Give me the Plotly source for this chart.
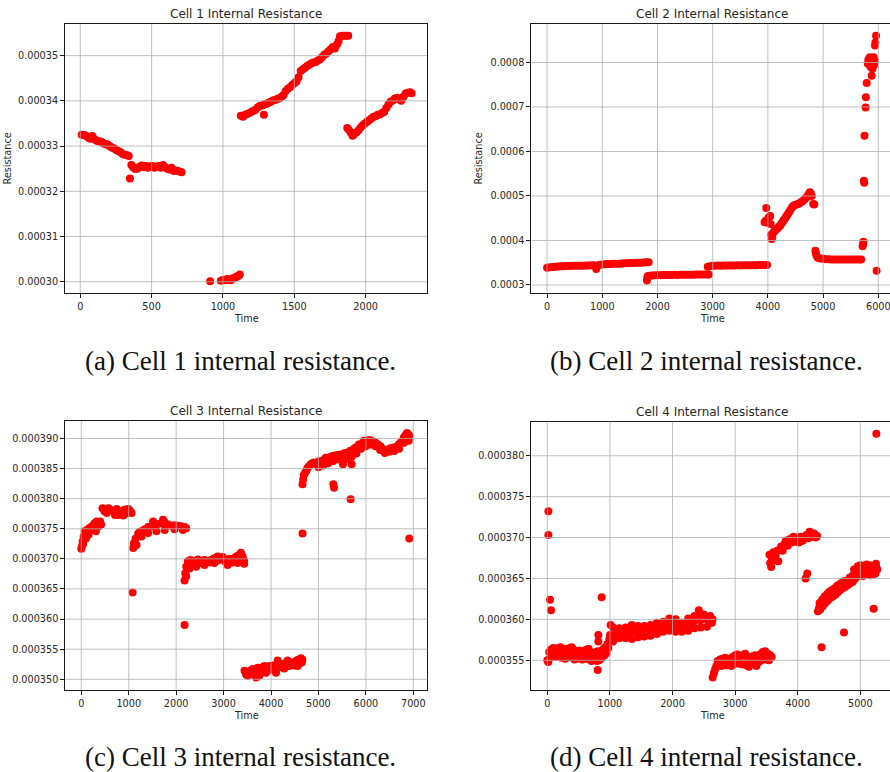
import plotly.graph_objects as go

W, H = 890, 772

# Measured internal resistance per cell: (time, resistance in micro-ohm)
cell1_points = [
    (10, 332.5), (25, 332.5), (40, 332.3), (55, 331.9), (70, 331.6), (85, 332.2), (100, 331.5),
    (115, 331.2), (130, 331.0), (145, 331.0), (160, 330.7), (175, 330.4), (190, 330.4), (205, 330.0),
    (220, 329.7), (235, 329.5), (250, 329.2), (265, 328.9), (280, 328.7), (295, 328.3), (310, 328.1),
    (325, 328.0), (340, 327.8), (348, 322.8),
    (358, 325.8), (370, 325.3), (385, 324.9), (400, 325.0), (415, 325.4), (430, 325.7), (445, 325.3),
    (460, 325.6), (475, 325.2), (490, 325.5), (505, 325.6), (520, 325.2), (535, 325.4), (550, 325.6),
    (565, 325.2), (580, 325.8), (595, 325.3), (610, 325.0), (625, 324.8), (640, 325.2), (655, 324.5),
    (670, 324.6), (685, 324.5), (700, 324.3), (710, 324.2),
    (910, 300.1), (985, 300.2), (1000, 300.4), (1015, 300.3), (1030, 300.6), (1045, 300.4),
    (1055, 300.3), (1065, 300.7), (1080, 300.9), (1090, 301.0), (1100, 301.2), (1110, 301.3), (1118, 301.6),
    (1125, 336.7), (1140, 336.5), (1155, 336.9), (1170, 337.1), (1185, 337.3), (1200, 337.6),
    (1215, 337.8), (1230, 338.1), (1245, 338.6), (1260, 338.9), (1275, 339.0), (1287, 336.9),
    (1290, 339.2), (1305, 339.3), (1320, 339.6), (1335, 339.8), (1350, 340.1), (1365, 340.2),
    (1380, 340.4), (1395, 340.6), (1410, 340.9), (1425, 341.3), (1440, 342.2), (1455, 342.7),
    (1470, 343.0), (1485, 343.5), (1500, 343.9), (1515, 344.3), (1530, 345.2), (1545, 346.6),
    (1560, 347.0), (1575, 347.3), (1590, 347.7), (1605, 348.0), (1620, 348.3), (1635, 348.5),
    (1650, 348.6), (1665, 348.9), (1680, 349.2), (1695, 349.7), (1710, 350.2), (1725, 350.5),
    (1740, 351.0), (1755, 351.4), (1770, 351.9), (1785, 351.6), (1800, 352.5), (1810, 353.2),
    (1820, 354.3), (1835, 354.4), (1850, 354.4), (1865, 354.4), (1878, 354.4),
    (1871, 334.0), (1882, 333.6), (1895, 333.0), (1908, 332.3), (1920, 332.6), (1935, 333.0),
    (1950, 333.5), (1965, 334.1), (1980, 334.6), (1995, 335.0), (2010, 335.4), (2025, 335.7),
    (2040, 336.1), (2055, 336.5), (2070, 336.6), (2085, 336.9), (2100, 337.0), (2115, 337.3),
    (2130, 337.6), (2145, 338.4), (2160, 339.2), (2175, 339.8), (2190, 340.1), (2205, 340.5),
    (2220, 340.7), (2235, 340.3), (2250, 340.0), (2265, 340.9), (2280, 341.6), (2295, 341.8),
    (2310, 341.9), (2322, 341.7),
]

cell2_points = [
    (0, 339), (50, 340), (100, 340.5), (150, 341), (200, 341.5), (250, 342), (300, 342), (350, 342.5),
    (400, 342.5), (450, 343), (500, 343), (550, 343.2), (600, 343.5), (650, 343.5), (700, 344),
    (750, 344), (800, 344.2), (850, 344.5), (890, 336), (900, 341), (950, 345.5), (1000, 346),
    (1050, 346.5), (1100, 347), (1150, 347), (1200, 347.5), (1250, 348), (1300, 348), (1350, 348.5),
    (1400, 349), (1450, 349), (1500, 349.5), (1550, 349.5), (1600, 350), (1650, 350), (1700, 350),
    (1750, 350.5), (1800, 351), (1840, 351),
    (1810, 310), (1815, 316), (1825, 320), (1850, 321), (1900, 321.5), (1950, 322), (2000, 322),
    (2050, 322), (2100, 322.5), (2150, 322.5), (2200, 322.5), (2250, 322.5), (2300, 323), (2350, 322.5),
    (2400, 323), (2450, 323), (2500, 323), (2550, 323), (2600, 323), (2650, 323), (2700, 323.5),
    (2750, 323.5), (2800, 323.5), (2850, 323.5), (2900, 323.5), (2930, 323.5),
    (2910, 341), (2950, 342), (3000, 343.5), (3050, 343.5), (3100, 344), (3150, 343.5), (3200, 344),
    (3250, 344), (3300, 344), (3350, 344), (3400, 344), (3450, 344.5), (3500, 344), (3550, 344.5),
    (3600, 344.5), (3650, 344.5), (3700, 344.5), (3750, 344.5), (3800, 344.5), (3850, 345),
    (3900, 345), (3950, 345), (3985, 345),
    (3940, 441), (3960, 444.5), (3970, 473), (3990, 440), (4010, 451), (4030, 453.5), (4040, 455),
    (4050, 437), (4060, 413), (4068, 403.4), (4080, 408), (4100, 418.4), (4120, 421), (4140, 424),
    (4160, 425.8), (4180, 428), (4200, 431), (4220, 433.3), (4240, 437), (4260, 440.5), (4280, 444.5),
    (4300, 447.5), (4320, 451), (4340, 455.7), (4360, 459), (4380, 463), (4400, 467), (4420, 471),
    (4440, 474.5), (4460, 478), (4490, 480), (4520, 481), (4550, 482), (4580, 484), (4610, 487),
    (4640, 489.4), (4670, 493), (4700, 497), (4730, 503), (4760, 508.3), (4780, 505), (4795, 500),
    (4820, 482), (4840, 481),
    (4860, 377), (4870, 372), (4880, 366), (4900, 362), (4930, 360), (4960, 359.5), (5000, 359),
    (5050, 358), (5100, 358), (5150, 357.5), (5200, 357.5), (5250, 357.5), (5300, 357.5),
    (5350, 357.5), (5400, 357.5), (5450, 357.5), (5500, 357.5), (5550, 357.5), (5600, 357.5),
    (5650, 357.5), (5690, 357.5),
    (5715, 387), (5725, 392), (5730, 397), (5740, 534), (5745, 530), (5750, 635.5), (5770, 699),
    (5775, 721.8), (5790, 754), (5810, 797), (5820, 806), (5830, 800), (5845, 812), (5860, 790),
    (5870, 805), (5880, 770), (5895, 786), (5905, 800), (5915, 812), (5925, 795), (5935, 805),
    (5940, 838), (5948, 845), (5960, 860), (5970, 332),
]

cell3_points = [
    (0, 371.7), (14, 372.1), (28, 372.9), (40, 372.5), (49, 373.7), (70, 374.6), (98, 373.4),
    (119, 374.8), (153, 374.0), (167, 375.1), (223, 375.4), (258, 374.8), (279, 375.9), (307, 374.6),
    (328, 376.2), (363, 375.4), (398, 376.2), (419, 375.7),
    (447, 378.4), (489, 377.9), (537, 377.6), (572, 378.4), (607, 378.2), (677, 377.9), (712, 377.3),
    (747, 378.3), (782, 377.3), (851, 377.9), (886, 377.2), (921, 378.2), (977, 377.6), (991, 378.3),
    (1026, 378.0), (1061, 377.6),
    (1082, 364.4),
    (1096, 371.8), (1110, 372.6), (1144, 373.4), (1165, 372.3), (1200, 374.2), (1235, 374.5),
    (1270, 374.6), (1270, 373.7), (1340, 374.9), (1410, 375.3), (1410, 374.3), (1479, 375.4),
    (1514, 376.2), (1549, 375.7), (1584, 374.6), (1619, 375.8), (1689, 375.9), (1724, 376.5),
    (1759, 376.1), (1759, 374.8), (1828, 375.7), (1898, 375.5), (1968, 375.6), (1968, 374.9),
    (2038, 375.5), (2107, 375.4), (2142, 374.8), (2177, 375.3), (2212, 375.1),
    (2178, 359.0),
    (2177, 366.4), (2191, 367.6), (2212, 368.7), (2212, 367.1), (2247, 369.6), (2282, 368.4),
    (2303, 369.8), (2340, 369.2), (2387, 369.6), (2422, 368.7), (2456, 369.9), (2490, 369.5),
    (2526, 369.3), (2560, 369.6), (2596, 369.8), (2596, 369.0), (2666, 369.6), (2700, 369.4),
    (2736, 369.8), (2770, 369.9), (2805, 370.1), (2805, 369.3), (2840, 369.6), (2875, 370.4),
    (2910, 369.8), (2945, 370.1), (2980, 370.3), (3015, 369.8), (3050, 369.4), (3085, 369.6),
    (3085, 369.0), (3120, 370.0), (3154, 369.9), (3190, 369.4), (3224, 370.1), (3260, 370.3),
    (3294, 370.5), (3294, 369.3), (3330, 370.2), (3364, 371.0), (3400, 370.4), (3434, 369.7),
    (3434, 369.2),
    (3441, 351.4), (3475, 350.8), (3510, 350.6), (3545, 350.8), (3580, 351.5), (3615, 351.7),
    (3650, 351.2), (3685, 350.3), (3720, 351.9), (3755, 350.6), (3790, 351.6), (3825, 352.0),
    (3860, 352.2), (3895, 351.1), (3930, 351.9), (3965, 352.2), (4000, 351.6), (4035, 352.3),
    (4070, 351.9), (4105, 351.1), (4140, 353.1), (4175, 352.0), (4210, 352.6), (4245, 352.5),
    (4280, 351.8), (4315, 352.7), (4350, 353.1), (4385, 352.2), (4420, 352.6), (4455, 352.8),
    (4490, 352.3), (4525, 353.0), (4559, 353.2), (4559, 352.2), (4595, 352.6), (4629, 353.5),
    (4650, 352.8), (4660, 353.3),
    (4664, 374.2),
    (4664, 382.4), (4678, 383.2), (4690, 383.9), (4720, 384.3), (4750, 384.7), (4769, 385.1),
    (4800, 385.4), (4839, 385.7), (4870, 385.9), (4909, 386.0), (4950, 385.8), (5014, 386.2),
    (5060, 386.1), (5100, 386.4), (5154, 386.8), (5200, 386.6), (5250, 386.9), (5294, 387.1),
    (5340, 386.9), (5380, 387.2), (5434, 387.3), (5480, 387.2), (5517, 385.7), (5530, 387.5),
    (5573, 387.6), (5620, 387.5), (5660, 387.9), (5699, 385.7), (5713, 387.9), (5750, 388.3),
    (5783, 388.5), (5820, 388.6), (5853, 389.0), (5900, 389.1), (5958, 389.6), (6000, 389.5),
    (6050, 389.7), (6098, 389.7), (6150, 389.5), (6203, 389.3), (6250, 389.0), (6308, 388.7),
    (6350, 388.3), (6399, 387.6), (6440, 388.0), (6483, 388.2), (6530, 388.4), (6587, 388.5),
    (6640, 388.6), (6692, 389.0), (6740, 389.4), (6797, 390.1), (6830, 390.5), (6867, 390.9),
    (6900, 390.6), (6916, 390.4), (6902, 389.6),
    (5000, 385.2), (5100, 385.5), (5200, 385.9), (5300, 386.2), (5400, 386.5), (5500, 386.6),
    (5600, 386.6), (5700, 386.9), (5800, 387.5), (5900, 388.3), (6000, 388.7), (6100, 389.0),
    (6200, 388.7), (6300, 388.1), (6500, 387.8), (6600, 387.9), (6700, 388.3), (6800, 389.3),
    (6900, 389.8),
    (5315, 382.4), (5329, 381.8), (5678, 379.9), (6916, 373.4),
]

cell4_points = [
    # early outliers
    (16, 373.2), (16, 370.3), (43, 362.4), (59, 361.1), (804, 353.8), (815, 358.1), (815, 357.3),
    (868, 362.7),
    # first plateau, upper edge
    (0, 355.0), (30, 356.0), (60, 356.3), (90, 356.5), (120, 356.4), (150, 356.2), (180, 356.5),
    (210, 356.6), (240, 356.3), (270, 356.2), (300, 356.4), (330, 356.3), (360, 356.5), (390, 356.6),
    (420, 356.3), (450, 356.0), (480, 356.1), (510, 356.2), (540, 356.0), (570, 356.1), (600, 356.2),
    (630, 356.3), (660, 356.4), (690, 356.0), (720, 355.8), (750, 355.9), (780, 356.0), (810, 356.1),
    (840, 356.0), (870, 356.2), (900, 356.4), (930, 356.6), (960, 357.0), (990, 357.6),
    # first plateau, lower edge
    (15, 354.8), (45, 355.3), (75, 355.5), (105, 355.6), (135, 355.4), (165, 355.5), (195, 355.6),
    (225, 355.3), (255, 355.4), (285, 355.2), (315, 355.5), (345, 355.4), (375, 355.6), (405, 355.3),
    (435, 355.1), (465, 355.2), (495, 355.4), (525, 355.3), (555, 355.1), (585, 355.3), (615, 355.2),
    (645, 355.4), (675, 355.1), (705, 354.9), (735, 355.0), (765, 355.1), (795, 354.9), (825, 355.0),
    (855, 355.2), (885, 355.5), (915, 355.6), (945, 355.9), (975, 356.5),
    (1001, 358.1), (1012, 359.3),
    # second plateau
    (1050, 358.0), (1100, 358.3), (1150, 358.1), (1200, 358.4), (1250, 358.0), (1300, 358.3),
    (1350, 358.5), (1400, 358.8), (1450, 358.3), (1500, 358.5), (1550, 358.4), (1600, 358.3),
    (1650, 358.6), (1700, 358.9), (1750, 358.7), (1800, 359.0), (1850, 359.2), (1900, 359.4),
    (1950, 359.2), (2000, 359.3), (2050, 359.2), (2100, 359.0), (2150, 359.1), (2200, 359.0),
    (2250, 359.4), (2300, 359.6), (2350, 359.8), (2400, 360.2), (2450, 359.9), (2500, 360.2),
    (2550, 360.0), (2600, 360.1), (2640, 360.0),
    (1050, 359.0), (1150, 358.9), (1250, 359.0), (1350, 359.3), (1450, 359.2), (1550, 359.2),
    (1650, 359.3), (1750, 359.6), (1850, 359.7), (1950, 360.1), (2050, 360.0), (2150, 359.6),
    (2250, 360.1), (2350, 360.4), (2420, 361.1), (2500, 360.6), (2600, 360.4),
    (1050, 357.3), (1150, 357.7), (1250, 357.7), (1350, 357.6), (1450, 357.8), (1550, 357.9),
    (1650, 358.0), (1750, 358.2), (1850, 358.5), (1950, 358.6), (2050, 358.5), (2150, 358.5),
    (2250, 358.6), (2350, 358.9), (2450, 359.0), (2550, 359.1), (2630, 359.6),
    # third plateau
    (2641, 352.9), (2660, 353.4), (2680, 353.9), (2700, 354.3), (2740, 354.4), (2780, 354.3),
    (2820, 354.5), (2860, 354.4), (2900, 354.6), (2940, 354.3), (2980, 354.5), (3020, 354.7),
    (3060, 354.6), (3100, 354.5), (3140, 354.6), (3180, 354.4), (3220, 354.2), (3260, 354.6),
    (3300, 354.7), (3340, 354.3), (3380, 354.8), (3420, 355.0), (3460, 355.2), (3500, 355.1),
    (3540, 355.0),
    (2720, 354.9), (2760, 355.1), (2800, 355.2), (2840, 355.3), (2880, 355.0), (2920, 355.2),
    (2960, 355.4), (3000, 355.6), (3040, 355.7), (3080, 355.5), (3120, 355.6), (3160, 355.8),
    (3200, 355.4), (3240, 355.3), (3280, 355.5), (3320, 355.6), (3360, 355.4), (3400, 355.7),
    (3440, 356.0), (3480, 356.1), (3520, 355.8), (3560, 355.6), (3584, 355.4),
    # fourth plateau
    (3549, 367.9), (3560, 366.9), (3576, 366.4), (3590, 367.5), (3610, 368.2), (3629, 367.2),
    (3650, 367.9), (3670, 368.4), (3690, 367.1), (3710, 368.5), (3736, 368.9), (3760, 368.4),
    (3789, 369.2), (3810, 369.6), (3840, 369.0), (3869, 369.8), (3900, 369.4), (3930, 370.1),
    (3960, 369.5), (3990, 370.0), (4020, 369.4), (4050, 370.1), (4080, 369.6), (4110, 369.9),
    (4140, 370.3), (4170, 369.9), (4190, 370.7), (4210, 370.4), (4240, 370.1), (4260, 370.5),
    (4290, 370.0), (4310, 370.2),
    (4125, 365.0), (4152, 365.6),
    # last rise
    (4323, 361.0), (4340, 361.4), (4349, 362.0), (4370, 361.9), (4390, 362.4), (4410, 362.3),
    (4429, 362.8), (4450, 362.6), (4470, 363.1), (4490, 362.9), (4509, 363.4), (4530, 363.1),
    (4550, 363.6), (4570, 363.2), (4589, 363.8), (4610, 363.5), (4630, 364.1), (4650, 363.7),
    (4669, 364.3), (4690, 364.0), (4710, 364.5), (4730, 364.1), (4749, 364.7), (4770, 364.3),
    (4790, 364.5), (4810, 364.8), (4829, 365.1), (4850, 364.6), (4870, 365.3), (4890, 365.0),
    (4909, 365.7), (4930, 365.4), (4950, 366.0), (4970, 365.6), (4989, 366.3), (5010, 365.9),
    (5030, 366.2), (5050, 365.5), (5070, 366.4), (5096, 366.0), (5120, 366.3), (5150, 365.8),
    (5176, 366.2), (5200, 365.7), (5220, 366.5), (5240, 366.0), (5256, 366.3), (5270, 366.1),
    (4360, 361.2), (4400, 361.6), (4440, 362.0), (4480, 362.3), (4520, 362.6), (4560, 362.8),
    (4600, 363.0), (4640, 363.3), (4680, 363.6), (4720, 363.8), (4760, 364.0), (4800, 364.2),
    (4840, 364.4), (4880, 364.6), (4920, 365.0), (4960, 365.3), (5000, 365.4), (5040, 365.3),
    (5080, 365.5), (5120, 365.6), (5160, 365.4), (5200, 365.5), (5240, 365.6),
    (4900, 366.1), (4960, 366.5), (5000, 366.6), (5050, 366.5), (5100, 366.7), (5150, 366.6),
    (5200, 366.5), (5250, 366.8),
    (4381, 356.6), (4739, 358.4), (5213, 361.3), (5256, 382.7),
]

# Axis ticks
cell1_xticks = [0, 500, 1000, 1500, 2000]
cell1_yticks = ["0.00030", "0.00031", "0.00032", "0.00033", "0.00034", "0.00035"]
cell2_xticks = [0, 1000, 2000, 3000, 4000, 5000, 6000]
cell2_yticks = ["0.0003", "0.0004", "0.0005", "0.0006", "0.0007", "0.0008"]
cell3_xticks = [0, 1000, 2000, 3000, 4000, 5000, 6000, 7000]
cell3_yticks = ["0.000350", "0.000355", "0.000360", "0.000365", "0.000370",
                "0.000375", "0.000380", "0.000385", "0.000390"]
cell4_xticks = [0, 1000, 2000, 3000, 4000, 5000]
cell4_yticks = ["0.000355", "0.000360", "0.000365", "0.000370", "0.000375", "0.000380"]

titles = ["Cell 1 Internal Resistance", "Cell 2 Internal Resistance",
          "Cell 3 Internal Resistance", "Cell 4 Internal Resistance"]
captions = ["(a) Cell 1 internal resistance.", "(b) Cell 2 internal resistance.",
            "(c) Cell 3 internal resistance.", "(d) Cell 4 internal resistance."]

# Layout of each panel in pixels (left, right, top, bottom) and axis ranges
panels = [
    dict(pts=cell1_points, xt=cell1_xticks, yt=cell1_yticks, box=(65, 427, 24, 293),
         xr=[-107, 2430], yr=[297.5e-6, 357.0e-6], frame_right=True,
         ylab_x=7, time_y=318.5, caption_xy=(240.5, 361)),
    dict(pts=cell2_points, xt=cell2_xticks, yt=cell2_yticks, box=(531.3, 890, 24, 293),
         xr=[-286, 6212], yr=[282.0e-6, 886.5e-6], frame_right=False,
         ylab_x=478, time_y=318.5, caption_xy=(706.5, 361)),
    dict(pts=cell3_points, xt=cell3_xticks, yt=cell3_yticks, box=(65.3, 427.3, 421, 690),
         xr=[-337, 7295], yr=[348.22e-6, 392.9e-6], frame_right=True,
         ylab_x=None, time_y=715.7, caption_xy=(240.5, 757)),
    dict(pts=cell4_points, xt=cell4_xticks, yt=cell4_yticks, box=(531.3, 890, 421.7, 690.3),
         xr=[-256, 5474], yr=[351.33e-6, 384.16e-6], frame_right=False,
         ylab_x=None, time_y=715.7, caption_xy=(706.5, 757)),
]

TEXT = "#262626"
GRID = "#b0b0b0"
SANS = "DejaVu Sans"

fig = go.Figure()
layout = dict(width=W, height=H, autosize=False, margin=dict(l=0, r=0, t=0, b=0),
              paper_bgcolor="white", plot_bgcolor="white", showlegend=False)
annotations = []
shapes = []

for i, p in enumerate(panels):
    n = "" if i == 0 else str(i + 1)
    left, right, top, bottom = p["box"]
    t = [a for a, _ in p["pts"]]
    r = [b * 1e-6 for _, b in p["pts"]]
    fig.add_trace(go.Scatter(
        x=t, y=r, mode="markers", xaxis="x" + n, yaxis="y" + n,
        marker=dict(color="#ff0000", size=8, line=dict(width=0)),
        hoverinfo="skip"))

    ytick_vals = [float(s) for s in p["yt"]]
    axis_common = dict(showline=True, linecolor="#1a1a1a", linewidth=1, ticks="outside",
                       ticklen=4, tickwidth=1, tickcolor="#1a1a1a", showgrid=False,
                       zeroline=False, tickfont=dict(family=SANS, size=9.7, color=TEXT),
                       layer="above traces", fixedrange=True, ticklabeloverflow="allow")
    layout["xaxis" + n] = dict(axis_common, domain=[left / W, right / W], range=p["xr"],
                               anchor="y" + n, tickmode="array", tickvals=p["xt"],
                               ticktext=[str(v) for v in p["xt"]], mirror=True)
    layout["yaxis" + n] = dict(axis_common, domain=[1 - bottom / H, 1 - top / H],
                               range=p["yr"], anchor="x" + n, tickmode="array",
                               tickvals=ytick_vals, ticktext=p["yt"],
                               mirror=p["frame_right"])

    xref = "x" + n
    yref = "y" + n
    # grid drawn over the markers
    for v in p["xt"]:
        shapes.append(dict(type="line", xref=xref, yref=yref + " domain", x0=v, x1=v, y0=0, y1=1,
                           line=dict(color=GRID, width=0.8), layer="above"))
    for v in ytick_vals:
        shapes.append(dict(type="line", xref=xref + " domain", yref=yref, x0=0, x1=1, y0=v, y1=v,
                           line=dict(color=GRID, width=0.8), layer="above"))

    center_x = (left + (right if p["frame_right"] else 893)) / 2
    annotations.append(dict(text=titles[i], xref="paper", yref="paper",
                            x=center_x / W, y=1 - (top - 10) / H, xanchor="center",
                            yanchor="middle", showarrow=False,
                            font=dict(family=SANS, size=12, color=TEXT)))
    annotations.append(dict(text="Time", xref="paper", yref="paper",
                            x=center_x / W, y=1 - p["time_y"] / H, xanchor="center",
                            yanchor="middle", showarrow=False,
                            font=dict(family=SANS, size=9.7, color=TEXT)))
    if p["ylab_x"] is not None:
        annotations.append(dict(text="Resistance", xref="paper", yref="paper",
                                x=p["ylab_x"] / W, y=1 - ((top + bottom) / 2) / H,
                                xanchor="center", yanchor="middle", textangle=-90,
                                showarrow=False, font=dict(family=SANS, size=9.7, color=TEXT)))
    cxp, cyp = p["caption_xy"]
    annotations.append(dict(text=captions[i], xref="paper", yref="paper",
                            x=cxp / W, y=1 - cyp / H, xanchor="center", yanchor="middle",
                            showarrow=False,
                            font=dict(family="Liberation Serif", size=27, color="#111111")))

layout["annotations"] = annotations
layout["shapes"] = shapes
fig.update_layout(**layout)

fig.write_html("out.html", config={"displayModeBar": False})
